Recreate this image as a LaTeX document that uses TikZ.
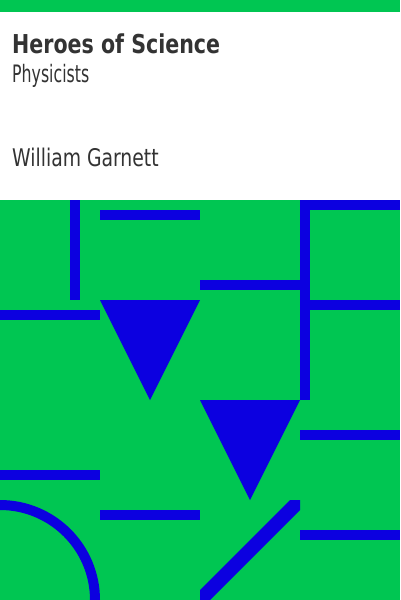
\documentclass[tikz,border=0pt]{standalone}
\usepackage{fontspec}
\newfontfamily\titlef{DejaVu Sans Condensed Bold}[FakeStretch=0.88]
\newfontfamily\subf{DejaVu Sans Condensed}[FakeStretch=0.73]
\newfontfamily\authf{DejaVu Sans Condensed}[FakeStretch=0.86]
\definecolor{cgreen}{RGB}{0,198,82}
\definecolor{cblue}{RGB}{12,0,224}
\definecolor{ctext}{RGB}{51,51,51}
\begin{document}
\begin{tikzpicture}[x=1pt,y=-1pt,
  shp/.style={fill=cblue,draw=none},
  txt/.style={anchor=base west,inner sep=0pt,text=ctext}]
\useasboundingbox (0,0) rectangle (400,600);
\fill[white] (0,0) rectangle (400,600);
\fill[cgreen] (0,0) rectangle (400,12);
\fill[cgreen] (0,200) rectangle (400,600);
% bars
\fill[shp] (70,200) rectangle (80,300);
\fill[shp] (100,210) rectangle (200,220);
\fill[shp] (0,310) rectangle (100,320);
\fill[shp] (200,280) rectangle (300,290);
\fill[shp] (300,200) rectangle (310,400);
\fill[shp] (300,200) rectangle (400,210);
\fill[shp] (310,300) rectangle (400,310);
\fill[shp] (300,430) rectangle (400,440);
\fill[shp] (0,470) rectangle (100,480);
\fill[shp] (100,510) rectangle (200,520);
\fill[shp] (300,530) rectangle (400,540);
% triangles
\fill[shp] (100,300) -- (200,300) -- (150,400) -- cycle;
\fill[shp] (200,400) -- (300,400) -- (250,500) -- cycle;
% diagonal
\fill[shp] (200,590) -- (290,500) -- (300,500) -- (300,510) -- (210,600) -- (200,600) -- cycle;
% arc ring
\fill[shp] (0,500) arc[start angle=-90,end angle=0,radius=100] -- (90,600) arc[start angle=0,end angle=-90,radius=90] -- cycle;
% text
\node[txt,font=\titlef\fontsize{26}{31}\selectfont] (title) at (12,53.3) {Heroes of Science};
\node[txt,font=\subf\fontsize{24}{29}\selectfont] (sub) at (12,82) {Physicists};
\node[txt,font=\authf\fontsize{24.3}{29}\selectfont] (auth) at (12,166.3) {William Garnett};
\end{tikzpicture}
\end{document}
